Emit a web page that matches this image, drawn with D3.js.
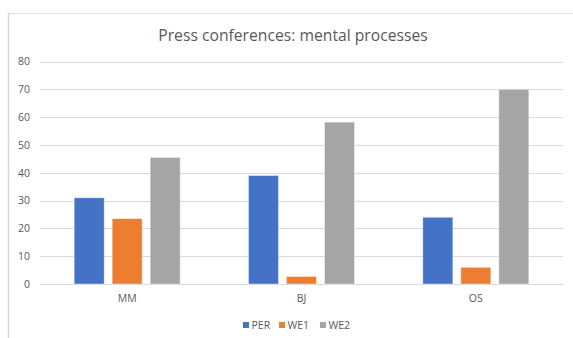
<!DOCTYPE html>
<html>
<head>
<meta charset="utf-8">
<script src="https://cdn.jsdelivr.net/npm/d3@7"></script>
<style>
  html, body { margin: 0; padding: 0; background: #fff; }
  svg { display: block; }
  text { font-family: "Open Sans", "Liberation Sans", sans-serif; }
</style>
</head>
<body>
<svg id="chart" width="573" height="338"></svg>
<script>
const categories = ["MM", "BJ", "OS"];
const seriesNames = ["PER", "WE1", "WE2"];
const seriesColors = ["#4472c4", "#ed7d31", "#a5a5a5"];
const perValues = [31, 39, 24];
const we1Values = [23.5, 2.7, 6];
const we2Values = [45.5, 58.2, 70];
const yTicks = [0, 10, 20, 30, 40, 50, 60, 70, 80];
const titleText = "Press conferences: mental processes";

const seriesValues = [perValues, we1Values, we2Values];
const rows = categories.map((c, i) => ({
  category: c,
  values: seriesNames.map((s, j) => ({ series: s, value: seriesValues[j][i], color: seriesColors[j] }))
}));

const svg = d3.select("#chart");
const W = 573, H = 338;
const plot = { left: 40, right: 563, top: 61.5, bottom: 284 };

// outer chart frame (only top and left edges fall inside the view)
svg.append("line").attr("x1", 8).attr("x2", W).attr("y1", 13.5).attr("y2", 13.5)
  .attr("stroke", "#e3e3e3").attr("stroke-width", 1);
svg.append("line").attr("x1", 8.5).attr("x2", 8.5).attr("y1", 13).attr("y2", H)
  .attr("stroke", "#d9d9d9").attr("stroke-width", 1.5);

const x = d3.scaleBand().domain(categories).range([plot.left, plot.right]);
const y = d3.scaleLinear().domain([0, 80]).range([plot.bottom, plot.top]);

const barW = 30, barGap = 8;
const inner = d3.scaleBand().domain(seriesNames)
  .range([0, barW * 3 + barGap * 2]).paddingInner(barGap / (barW + barGap)).paddingOuter(0);

// gridlines
svg.append("g").selectAll("line").data(yTicks).join("line")
  .attr("x1", plot.left).attr("x2", plot.right)
  .attr("y1", d => Math.round(y(d)) + 0.5).attr("y2", d => Math.round(y(d)) + 0.5)
  .attr("stroke", "#d9d9d9").attr("stroke-width", 1.2);

// y axis labels
const yAxis = d3.axisLeft(y).tickValues(yTicks).tickSize(0).tickPadding(0);
const gy = svg.append("g").attr("transform", `translate(30,0)`).call(yAxis);
gy.select(".domain").remove();
gy.selectAll("text").attr("fill", "#595959").attr("font-size", 10.5);

// bars
const groups = svg.append("g").selectAll("g").data(rows).join("g")
  .attr("transform", d => `translate(${x(d.category) + x.bandwidth() / 2 - (barW * 3 + barGap * 2) / 2},0)`);
groups.selectAll("rect").data(d => d.values).join("rect")
  .attr("x", d => inner(d.series))
  .attr("width", inner.bandwidth())
  .attr("y", d => y(d.value))
  .attr("height", d => y(0) - y(d.value))
  .attr("fill", d => d.color)
  .attr("stroke", "#ffffff").attr("stroke-opacity", 0.5).attr("stroke-width", 0.8);

// x axis labels
const xAxis = d3.axisBottom(x).tickSize(0).tickPadding(0);
const gx = svg.append("g").attr("transform", `translate(0,${plot.bottom + 11})`).call(xAxis);
gx.select(".domain").remove();
gx.selectAll("text").attr("fill", "#595959").attr("font-size", 10.5);

// title
svg.append("text").attr("x", 293).attr("y", 41).attr("text-anchor", "middle")
  .attr("fill", "#595959").attr("font-size", 15.7).text(titleText);

// legend
const legendX = [243, 279, 320];
const legend = svg.append("g").selectAll("g").data(seriesNames).join("g")
  .attr("transform", (d, i) => `translate(${legendX[i]},325)`);
legend.append("rect").attr("x", 0).attr("y", -3).attr("width", 6).attr("height", 6)
  .attr("fill", (d, i) => seriesColors[i]);
legend.append("text").attr("x", 8.5).attr("y", 4).attr("fill", "#595959")
  .attr("font-size", 10.5).text(d => d);
</script>
</body>
</html>
